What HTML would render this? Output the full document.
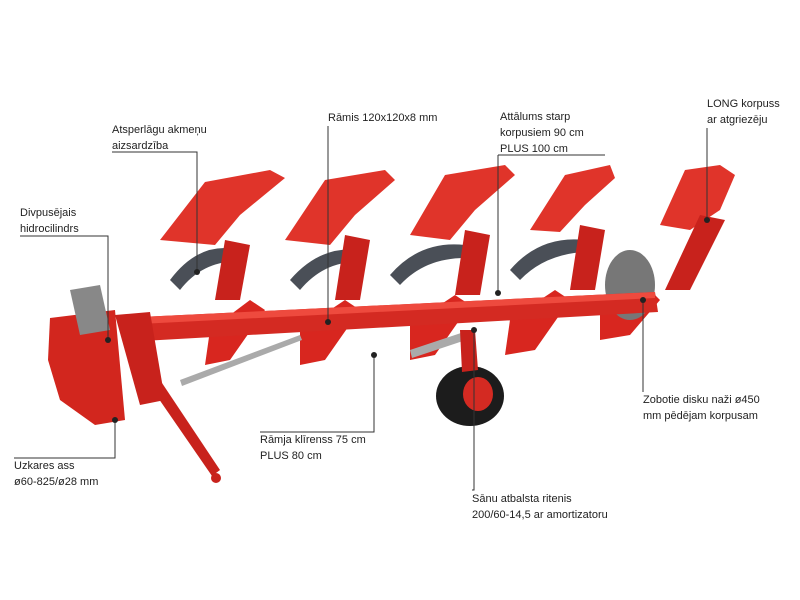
<!DOCTYPE html>
<html><head><meta charset="utf-8"><style>
body{margin:0;background:#fff;width:800px;height:600px;overflow:hidden;position:relative;font-family:"Liberation Sans",sans-serif}
.t{position:absolute;font-size:11px;line-height:16px;color:#222;white-space:nowrap}
svg{position:absolute;left:0;top:0}
</style></head><body>
<svg width="800" height="600" viewBox="0 0 800 600">
<g>
<!-- lower bodies -->
<g fill="#d8261f">
<path d="M210 330 L250 300 L265 310 L230 360 L205 365Z"/>
<path d="M300 330 L345 300 L360 310 L325 360 L300 365Z"/>
<path d="M410 325 L455 295 L470 305 L435 355 L410 360Z"/>
<path d="M510 320 L555 290 L570 300 L535 350 L505 355Z"/>
<path d="M600 310 L645 285 L660 300 L630 335 L600 340Z"/>
</g>
<!-- upper moldboards -->
<g fill="#e0342a">
<path d="M160 240 L205 182 L270 170 L285 178 L240 215 L215 245Z"/>
<path d="M285 240 L325 180 L385 170 L395 180 L355 215 L330 245Z"/>
<path d="M410 235 L445 175 L505 165 L515 175 L475 210 L450 240Z"/>
<path d="M530 230 L565 175 L610 165 L615 178 L585 205 L560 232Z"/>
<path d="M660 225 L685 170 L720 165 L735 175 L720 210 L690 230Z"/>
</g>
<!-- gray shares -->
<g fill="#4a4f57">
<path d="M170 280 Q200 240 240 250 L245 262 Q205 258 180 290Z"/>
<path d="M290 280 Q320 245 360 250 L362 262 Q325 260 300 290Z"/>
<path d="M390 275 Q420 240 465 245 L465 258 Q425 258 400 285Z"/>
<path d="M510 270 Q540 235 585 240 L585 252 Q545 254 520 280Z"/>
<ellipse cx="630" cy="285" rx="25" ry="35" fill="#777"/>
</g>
<!-- legs -->
<g fill="#c8221c">
<path d="M225 240 L250 245 L240 300 L215 300Z"/>
<path d="M345 235 L370 240 L360 300 L335 300Z"/>
<path d="M465 230 L490 235 L480 295 L455 295Z"/>
<path d="M580 225 L605 230 L595 290 L570 290Z"/>
<path d="M700 215 L725 220 L690 290 L665 290Z"/>
</g>
<!-- main beam -->
<path d="M120 318 L655 292 L658 312 L125 342Z" fill="#d42a22"/>
<path d="M120 318 L655 292 L655 298 L120 325Z" fill="#ee4a3e"/>
<!-- headstock -->
<path d="M50 318 L115 310 L125 420 L95 425 L60 400 L48 360Z" fill="#d2261e"/>
<path d="M115 315 L150 312 L165 400 L140 405Z" fill="#c8221c"/>
<path d="M140 350 L220 470 L212 476 L132 360Z" fill="#c8221c"/>
<circle cx="216" cy="478" r="5" fill="#c8221c"/>
<path d="M70 290 L100 285 L110 330 L80 335Z" fill="#888"/>
<path d="M180 380 L300 335 L302 340 L182 386Z" fill="#aaa"/>
<path d="M410 350 L470 330 L472 338 L412 358Z" fill="#aaa"/>
<!-- wheel -->
<ellipse cx="470" cy="396" rx="34" ry="30" fill="#1c1c1c"/>
<ellipse cx="478" cy="394" rx="15" ry="17" fill="#d42a22"/>
<path d="M460 330 L475 330 L478 370 L462 372Z" fill="#c8221c"/>
</g>
<!-- leader lines -->
<g stroke="#333" stroke-width="1" fill="none">
<polyline points="112,152 197,152 197,272"/>
<polyline points="328,126 328,322"/>
<polyline points="498,155 605,155"/>
<polyline points="498,155 498,293"/>
<polyline points="707,128 707,220"/>
<polyline points="20,236 108,236 108,340"/>
<polyline points="14,458 115,458 115,420"/>
<polyline points="260,432 374,432 374,355"/>
<polyline points="472,490 474,490 474,330"/>
<polyline points="643,392 643,300"/>
</g>
<g fill="#222">
<circle cx="197" cy="272" r="3"/><circle cx="328" cy="322" r="3"/><circle cx="498" cy="293" r="3"/>
<circle cx="707" cy="220" r="3"/><circle cx="108" cy="340" r="3"/><circle cx="115" cy="420" r="3"/>
<circle cx="374" cy="355" r="3"/><circle cx="474" cy="330" r="3"/><circle cx="643" cy="300" r="3"/>
</g>
</svg>
<div class="t" style="left:112px;top:122px">Atsperlāgu akmeņu<br>aizsardzība</div>
<div class="t" style="left:328px;top:110px">Rāmis 120x120x8 mm</div>
<div class="t" style="left:500px;top:109px">Attālums starp<br>korpusiem 90 cm<br>PLUS 100 cm</div>
<div class="t" style="left:707px;top:96px">LONG korpuss<br>ar atgriezēju</div>
<div class="t" style="left:20px;top:205px">Divpusējais<br>hidrocilindrs</div>
<div class="t" style="left:14px;top:458px">Uzkares ass<br>ø60-825/ø28 mm</div>
<div class="t" style="left:260px;top:432px">Rāmja klīrenss 75 cm<br>PLUS 80 cm</div>
<div class="t" style="left:472px;top:491px">Sānu atbalsta ritenis<br>200/60-14,5 ar amortizatoru</div>
<div class="t" style="left:643px;top:392px">Zobotie disku naži ø450<br>mm pēdējam korpusam</div>
</body></html>
